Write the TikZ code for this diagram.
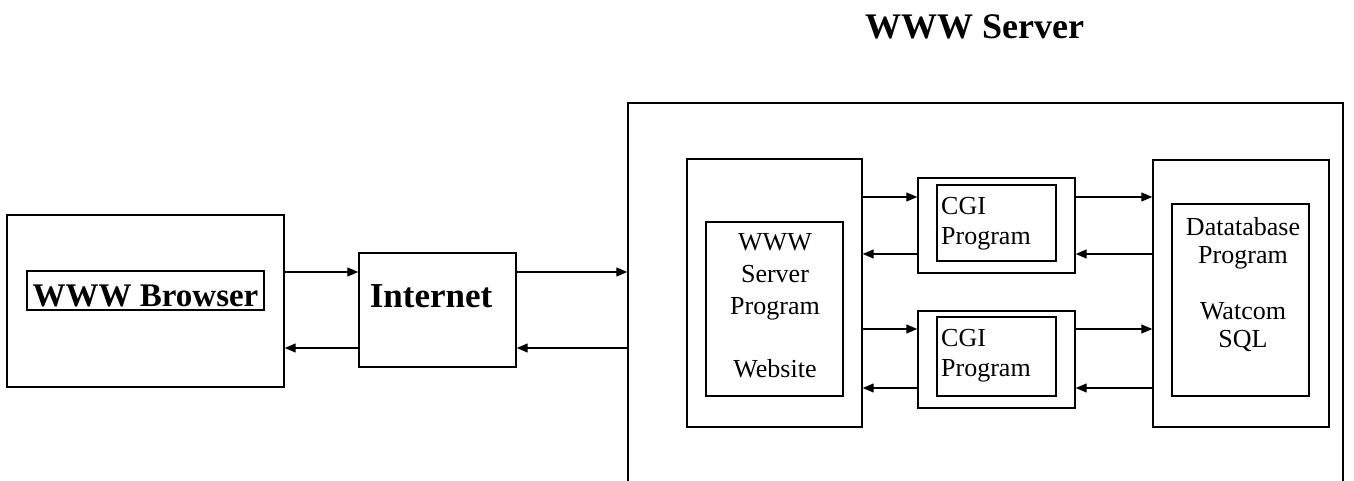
\documentclass[tikz,border=0pt]{standalone}
\usepackage{fontspec}
\setmainfont{Liberation Serif}
\usetikzlibrary{arrows.meta}

\tikzset{
  box/.style={draw, line width=1.4pt, inner sep=0pt, fill=none},
  conn/.style={line width=1.3pt, -{Triangle[length=11pt,width=9pt]}},
  bigbold/.style={font=\fontsize{33}{38}\selectfont\bfseries, inner sep=0pt},
  title/.style={font=\fontsize{36}{40}\selectfont\bfseries, inner sep=0pt},
  txt/.style={font=\fontsize{26}{31}\selectfont, inner sep=0pt},
}

\begin{document}
\begin{tikzpicture}[x=1pt,y=-1pt]
  \useasboundingbox (0,0) rectangle (1354,481);
  \clip (0,0) rectangle (1354,481);

  % heading of the server part
  \node[title, anchor=base west] (heading) at (865,39) {WWW Server};

  % client side
  \node[box, minimum width=277pt, minimum height=172pt] (browser) at (145.5,301) {};
  \node[box, minimum width=237pt, minimum height=39pt] (browserin) at (145.5,290.5) {};
  \node[bigbold, anchor=base] (browsertxt) at (145.5,306) {WWW Browser};

  \node[box, minimum width=157pt, minimum height=114pt] (internet) at (437.5,310) {};
  \node[font=\fontsize{35}{40}\selectfont\bfseries, inner sep=0pt, anchor=base] (internettxt) at (431,307) {Internet};

  % server machine (open towards the bottom)
  \node[box, minimum width=715pt, minimum height=417pt] (server) at (985.5,311.5) {};

  % web server program
  \node[box, minimum width=175pt, minimum height=268pt] (wwwout) at (774.5,293) {};
  \node[box, minimum width=137pt, minimum height=174pt] (wwwin) at (774.5,309) {};
  \node[txt, align=center, anchor=north, font=\fontsize{26}{32}\selectfont] (wwwtxt) at (775,233)
    {WWW\\Server\\Program\\[31pt]Website};

  % CGI programs
  \node[box, minimum width=157pt, minimum height=95pt] (cgi1) at (996.5,225.5) {};
  \node[box, minimum width=119pt, minimum height=76pt] (cgi1in) at (996.5,223) {};
  \node[txt, align=left, anchor=north west, font=\fontsize{26}{30}\selectfont] (cgi1txt) at (941,197.5)
    {CGI\\Program};

  \node[box, minimum width=157pt, minimum height=97pt] (cgi2) at (996.5,359.5) {};
  \node[box, minimum width=119pt, minimum height=79pt] (cgi2in) at (996.5,356.5) {};
  \node[txt, align=left, anchor=north west, font=\fontsize{26}{30}\selectfont] (cgi2txt) at (941,329.5)
    {CGI\\Program};

  % database program
  \node[box, minimum width=176pt, minimum height=267pt] (db) at (1241,293.5) {};
  \node[box, minimum width=137pt, minimum height=192pt] (dbin) at (1240.5,300) {};
  \node[txt, align=center, anchor=north, font=\fontsize{26}{28}\selectfont] (dbtxt) at (1243,217)
    {Datatabase\\Program\\[28pt]Watcom\\SQL};

  % connectors
  \draw[conn] (browser.east |- 0,272) -- (internet.west |- 0,272);
  \draw[conn] (internet.west |- 0,348) -- (browser.east |- 0,348);
  \draw[conn] (internet.east |- 0,272) -- (server.west |- 0,272);
  \draw[conn] (server.west |- 0,348) -- (internet.east |- 0,348);

  \draw[conn] (wwwout.east |- 0,197) -- (cgi1.west |- 0,197);
  \draw[conn] (cgi1.west |- 0,254) -- (wwwout.east |- 0,254);
  \draw[conn] (wwwout.east |- 0,329) -- (cgi2.west |- 0,329);
  \draw[conn] (cgi2.west |- 0,388) -- (wwwout.east |- 0,388);

  \draw[conn] (cgi1.east |- 0,197) -- (db.west |- 0,197);
  \draw[conn] (db.west |- 0,254) -- (cgi1.east |- 0,254);
  \draw[conn] (cgi2.east |- 0,329) -- (db.west |- 0,329);
  \draw[conn] (db.west |- 0,388) -- (cgi2.east |- 0,388);
\end{tikzpicture}
\end{document}
